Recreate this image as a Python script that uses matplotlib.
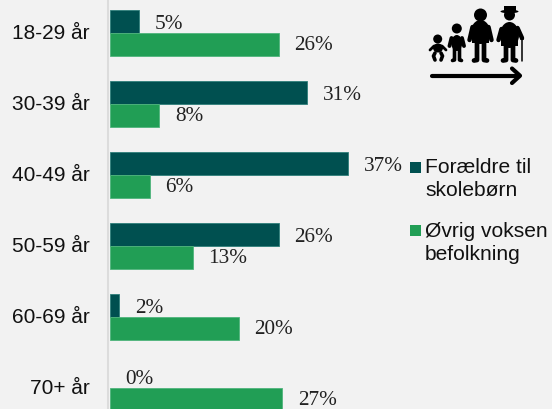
import matplotlib
matplotlib.use("Agg")
import matplotlib.pyplot as plt
from matplotlib.patches import Circle, Ellipse, Rectangle
import numpy as np

ages = ["18-29 år", "30-39 år", "40-49 år", "50-59 år", "60-69 år", "70+ år"]
parents = [4.6, 30.6, 36.9, 26.2, 1.5, 0]
others = [26.2, 7.7, 6.2, 12.9, 20.0, 26.7]
series_names = ["Forældre til\nskolebørn", "Øvrig voksen\nbefolkning"]

W, H = 552, 409
BG = "#f2f2f2"
DARK = "#005050"
GREEN = "#219e55"

plt.rcParams["font.family"] = "Liberation Sans"

fig = plt.figure(figsize=(W / 100, H / 100), dpi=100, facecolor=BG)
left = 109.5
ax = fig.add_axes([left / W, 0, 1 - left / W, 1], facecolor="none")

for name, spine in ax.spines.items():
    spine.set_visible(name == "left")
ax.spines["left"].set_color("#dcdcdc")
ax.spines["left"].set_linewidth(1.5)
ax.spines["left"].set_position(("outward", 0.8))

pos = np.arange(len(ages))
h = 0.33
dark_bars = ax.barh(pos - h / 2, parents, h, color=DARK, edgecolor="#2f7f7a", linewidth=0.6)
ax.barh(pos + h / 2, others, h, color=GREEN, edgecolor="#4fb47c", linewidth=0.6)
dark_bars[5].set_linewidth(0)
ax.set_xlim(0, (W - left) / 6.47)
ax.set_ylim(376 / 71, -33 / 71)

ax.set_yticks(pos - 0.02, ages, fontsize=15, color="#111111")
ax.tick_params(left=False, bottom=False, labelbottom=False, pad=10)

for i in pos:
    ax.text(parents[i] + 2.4, i - h / 2 + 0.05, f"{parents[i]:.0f}%", family="Liberation Serif",
            fontsize=15.3, va="center", color="#222222")
    ax.text(others[i] + 2.4, i + h / 2 + 0.01, f"{others[i]:.0f}%", family="Liberation Serif",
            fontsize=15.3, va="center", color="#222222")

# overlay in pixel coordinates for the legend and the icon
ov = fig.add_axes([0, 0, 1, 1], facecolor="none")
ov.set_xlim(0, W)
ov.set_ylim(H, 0)
ov.axis("off")

ov.add_patch(Rectangle((410, 162), 11, 11, color=DARK, lw=0))
ov.add_patch(Rectangle((410, 225), 11, 11, color=GREEN, lw=0))
ov.text(425, 179, series_names[0], fontsize=15.1, va="center", linespacing=1.25, color="#111111")
ov.text(425, 243, series_names[1], fontsize=15.1, va="center", linespacing=1.25, color="#111111")


def limb(xs, ys, lw):
    ov.plot(xs, ys, color="black", lw=lw, solid_capstyle="round")


# baby
ov.add_patch(Circle((437.7, 39), 4.5, color="black", lw=0))
ov.add_patch(Ellipse((438, 48), 10, 9, color="black", lw=0))
limb([430, 434, 442, 446], [50, 46, 46, 50], 2)
limb([435, 433.5, 435], [53, 56, 60], 2.6)
limb([441, 442.5, 441], [53, 56, 60], 2.6)
# child
ov.add_patch(Circle((456.8, 28.5), 5, color="black", lw=0))
ov.add_patch(Ellipse((456.8, 43), 11, 16, color="black", lw=0))
limb([451.5, 449.5], [38, 46], 2.8)
limb([462, 464], [38, 46], 2.8)
limb([454.5, 454.5, 452.5], [48, 60, 60.5], 2.6)
limb([459.5, 459.5, 461.5], [48, 60, 60.5], 2.6)
# adult
ov.add_patch(Circle((480.5, 15), 6.5, color="black", lw=0))
ov.add_patch(Ellipse((480.5, 32), 19, 24, color="black", lw=0))
ov.add_patch(Rectangle((472, 32), 17, 11, color="black", lw=0))
limb([472.5, 469.5], [27, 40], 3.2)
limb([488.5, 491.5], [27, 40], 3.2)
limb([477, 477, 474], [40, 60, 60.5], 3.4)
limb([484, 484, 487], [40, 60, 60.5], 3.4)
# elder with hat and cane
ov.add_patch(Ellipse((509.5, 11.5), 18, 3.5, color="black", lw=0))
ov.add_patch(Rectangle((503.5, 6), 12, 6, color="black", lw=0))
ov.add_patch(Circle((509.5, 15), 5.5, color="black", lw=0))
ov.add_patch(Ellipse((509.5, 35), 19, 26, color="black", lw=0))
ov.add_patch(Rectangle((501, 35), 17, 11, color="black", lw=0))
limb([501.5, 498.5], [29, 40], 3.2)
limb([517.5, 522], [28, 38], 3.2)
limb([506, 506, 503], [42, 60, 60.5], 3.4)
limb([513, 513, 516], [42, 60, 60.5], 3.4)
limb([521, 523], [39, 39], 1.4)
limb([521.5, 521.5], [39, 61], 1.1)
# arrow
limb([431.5, 519], [75.7, 75.7], 3)
limb([512, 520, 512], [68.5, 75.7, 83], 3)

fig.savefig("out.png", dpi=100, facecolor=BG)
